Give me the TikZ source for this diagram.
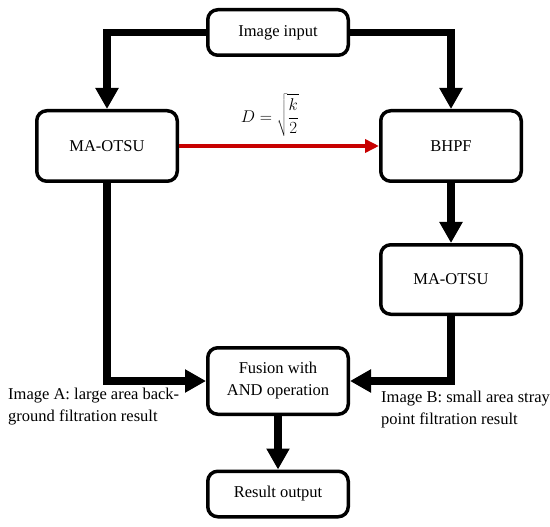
\documentclass[tikz,border=0pt]{standalone}
\usepackage{fix-cm}
\usepackage{fontspec}
\setmainfont{Liberation Serif}
\usetikzlibrary{arrows.meta}
\definecolor{arrred}{RGB}{200,0,0}
\tikzset{
  box/.style={draw, line width=3.5pt, rounded corners=10pt, minimum width=140.5pt, inner sep=0pt, align=center, font=\fontsize{16.5}{22}\selectfont},
  flow/.style={line width=7.5pt, -{Triangle[length=21pt,width=22pt]}},
  redflow/.style={draw=arrred, line width=4pt, -{Triangle[length=14pt,width=13pt]}, arrred},
  lbl/.style={inner sep=0pt, align=left, anchor=west, font=\fontsize{16.5}{22}\selectfont}
}
\begin{document}
\begin{tikzpicture}[x=1pt,y=-1pt]
\useasboundingbox (0,0) rectangle (550,527);
\node[box, minimum height=45.5pt] (in) at (278,32.5) {Image input};
\node[box, minimum height=70.5pt] (ma1) at (107,146) {MA-OTSU};
\node[box, minimum height=70.5pt] (bhpf) at (451,146) {BHPF};
\node[box, minimum height=69.5pt] (ma2) at (451,279.5) {MA-OTSU};
\node[box, minimum height=66.5pt] (fus) at (278,381) {Fusion with\\AND operation};
\node[box, minimum height=45.5pt] (res) at (278,494) {Result output};
\node[inner sep=0pt, font=\fontsize{17}{20}\selectfont] (dlab) at (270,115) {$\displaystyle D=\sqrt{\frac{k}{2}}$};
\node[lbl] (labA) at (8,407) {Image A: large area back-\\ground filtration result};
\node[lbl] (labB) at (381,410) {Image B: small area stray\\point filtration result};
\draw[flow] (in.west) -| (ma1.north);
\draw[flow] (in.east) -| (bhpf.north);
\draw[redflow] (ma1.east) -- (bhpf.west);
\draw[flow] (bhpf.south) -- (ma2.north);
\draw[flow] (ma1.south) |- (fus.west);
\draw[flow] (ma2.south) |- (fus.east);
\draw[flow] (fus.south) -- (res.north);
\end{tikzpicture}
\end{document}
